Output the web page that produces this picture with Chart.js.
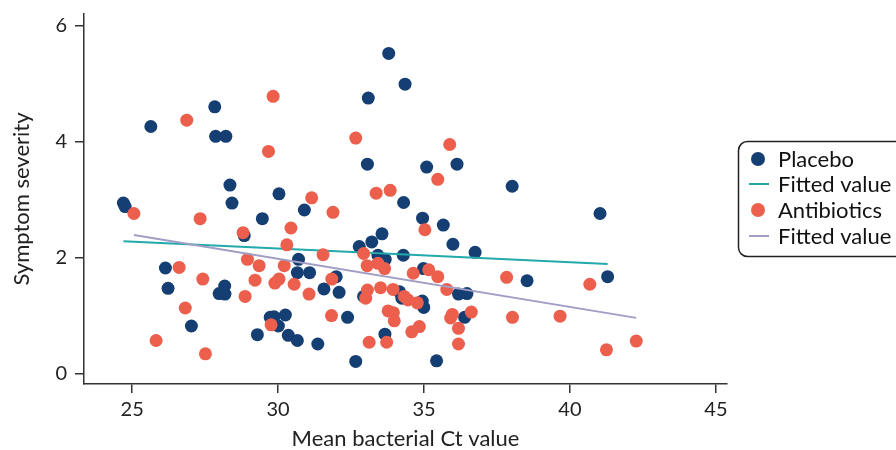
<!DOCTYPE html>
<html><head><meta charset="utf-8">
<script src="https://cdn.jsdelivr.net/npm/chart.js@4.4.1/dist/chart.umd.min.js"></script>
<style>html,body{margin:0;padding:0;background:#fff}#wrap{width:896px;height:450px;overflow:hidden}</style>
</head><body><div id="wrap"><canvas id="c" width="896" height="450"></canvas></div>
<script>
const placeboX = [24.70,24.76,25.64,27.83,27.86,28.21,28.35,28.42,30.03,29.46,28.84,30.70,30.66,26.14,26.23,28.17,27.98,28.18,27.03,29.73,29.86,30.25,30.01,29.29,30.35,30.66,33.79,34.35,33.09,33.06,35.09,36.13,38.02,34.30,30.90,34.95,35.66,33.56,33.21,32.78,35.99,36.75,33.42,33.67,34.29,31.08,34.98,31.99,36.18,36.47,31.57,32.09,34.16,34.24,34.94,34.99,36.39,32.38,33.66,31.36,32.66,35.43,41.03,38.53,41.29,32.93];
const placeboY = [2.94,2.88,4.26,4.60,4.09,4.09,3.25,2.94,3.10,2.67,2.38,1.97,1.74,1.82,1.47,1.51,1.38,1.37,0.82,0.97,0.98,1.01,0.82,0.67,0.66,0.57,5.52,4.99,4.75,3.61,3.56,3.61,3.23,2.95,2.82,2.68,2.56,2.41,2.27,2.19,2.23,2.09,2.04,1.97,2.04,1.74,1.81,1.67,1.37,1.38,1.46,1.40,1.41,1.30,1.25,1.14,0.97,0.97,0.68,0.51,0.21,0.22,2.76,1.60,1.67,1.33];
const antibioticX = [29.83,26.87,29.67,32.66,35.88,35.47,31.15,33.36,33.84,25.06,27.33,30.44,28.80,30.30,28.95,29.35,30.21,26.61,27.42,29.21,29.89,30.03,30.55,28.87,26.82,29.76,25.82,27.51,31.88,35.03,32.93,31.54,33.05,33.42,33.65,34.63,35.16,35.47,31.84,37.83,35.78,31.06,33.06,33.00,33.51,33.94,34.32,34.45,34.77,33.77,33.95,33.98,35.97,35.91,36.62,36.18,38.03,34.84,34.58,33.12,33.72,36.18,39.66,40.68,41.25,42.27,31.83];
const antibioticY = [4.78,4.37,3.83,4.06,3.95,3.35,3.03,3.11,3.16,2.76,2.67,2.51,2.43,2.22,1.97,1.86,1.86,1.83,1.63,1.61,1.56,1.63,1.54,1.33,1.13,0.84,0.57,0.34,2.78,2.48,2.07,2.05,1.86,1.90,1.81,1.73,1.79,1.67,1.63,1.66,1.45,1.37,1.44,1.30,1.48,1.45,1.33,1.27,1.22,1.08,1.05,0.91,1.02,0.96,1.06,0.78,0.97,0.81,0.72,0.54,0.54,0.51,0.99,1.54,0.41,0.56,1.00];
const fitPlaceboX = [24.70, 41.29];
const fitPlaceboY = [2.28, 1.89];
const fitAntibioticX = [25.06, 42.27];
const fitAntibioticY = [2.39, 0.96];
const xTicks = [25, 30, 35, 40, 45];
const yTicks = [0, 2, 4, 6];
const legendLabels = ['Placebo', 'Fitted value', 'Antibiotics', 'Fitted value'];

const BLUE = '#153e73', RED = '#ec5f4d', TEAL = '#23a9ab', PURPLE = '#a19dc5';
const FONT = 'Lato, "Open Sans", sans-serif';
const pts = (xs, ys) => xs.map((x, i) => ({x, y: ys[i]}));

const legendPlugin = {
  id: 'customLegend',
  afterDraw(chart) {
    const ctx = chart.ctx;
    ctx.save();
    ctx.strokeStyle = '#222';
    ctx.lineWidth = 1.5;
    ctx.beginPath();
    ctx.roundRect(738.5, 141.5, 190, 115, 9);
    ctx.stroke();
    const rows = [159, 184, 210, 236];
    const kinds = [['dot', BLUE], ['line', TEAL], ['dot', RED], ['line', PURPLE]];
    ctx.font = '22px ' + FONT;
    ctx.textBaseline = 'middle';
    rows.forEach((y, i) => {
      const [k, c] = kinds[i];
      if (k === 'dot') {
        ctx.fillStyle = c;
        ctx.beginPath(); ctx.arc(758, y, 7, 0, Math.PI * 2); ctx.fill();
      } else {
        ctx.strokeStyle = c; ctx.lineWidth = 2;
        ctx.beginPath(); ctx.moveTo(749, y); ctx.lineTo(769, y); ctx.stroke();
      }
      ctx.fillStyle = '#111';
      ctx.fillText(legendLabels[i], 778, y + 1);
    });
    ctx.restore();
  }
};

new Chart(document.getElementById('c'), {
  type: 'scatter',
  data: {
    datasets: [
      {label: legendLabels[0], data: pts(placeboX, placeboY), backgroundColor: BLUE, borderWidth: 0, pointRadius: 6.5, order: 4},
      {label: legendLabels[1], type: 'line', data: pts(fitPlaceboX, fitPlaceboY), borderColor: TEAL, borderWidth: 2, pointRadius: 0, fill: false, order: 3},
      {label: legendLabels[2], data: pts(antibioticX, antibioticY), backgroundColor: RED, borderWidth: 0, pointRadius: 6.5, order: 2},
      {label: legendLabels[3], type: 'line', data: pts(fitAntibioticX, fitAntibioticY), borderColor: PURPLE, borderWidth: 2, pointRadius: 0, fill: false, order: 1}
    ]
  },
  options: {
    responsive: false,
    animation: false,
    devicePixelRatio: 1,
    layout: {padding: {top: 14, right: 169, bottom: 0, left: 0}},
    plugins: {legend: {display: false}, tooltip: {enabled: false}},
    scales: {
      x: {
        type: 'linear', position: 'bottom', min: 23.35, max: 45.38,
        border: {display: true, color: '#333', width: 1.5},
        grid: {drawOnChartArea: false, drawTicks: true, tickLength: 9, color: '#333', lineWidth: 1.5},
        ticks: {font: {family: FONT, size: 20}, color: '#222', padding: 5},
        afterBuildTicks: s => { s.ticks = xTicks.map(v => ({value: v})); },
        afterFit: s => { s.height = 66; s.paddingLeft = 0; s.paddingRight = 0; },
        title: {display: true, text: 'Mean bacterial Ct value', font: {family: FONT, size: 22, lineHeight: 1}, color: '#222', padding: {top: 0, bottom: 0}}
      },
      y: {
        type: 'linear', min: -0.18, max: 6.2,
        border: {display: true, color: '#333', width: 1.5},
        grid: {drawOnChartArea: false, drawTicks: true, tickLength: 9, color: '#333', lineWidth: 1.5},
        ticks: {font: {family: FONT, size: 20}, color: '#222', padding: 8},
        afterBuildTicks: s => { s.ticks = yTicks.map(v => ({value: v})); },
        afterFit: s => { s.width = 84; s.paddingTop = 0; s.paddingBottom = 0; },
        title: {display: true, text: 'Symptom severity', font: {family: FONT, size: 22, lineHeight: 1}, color: '#222', padding: {top: 11, bottom: 11}}
      }
    }
  },
  plugins: [legendPlugin]
});
</script></body></html>
